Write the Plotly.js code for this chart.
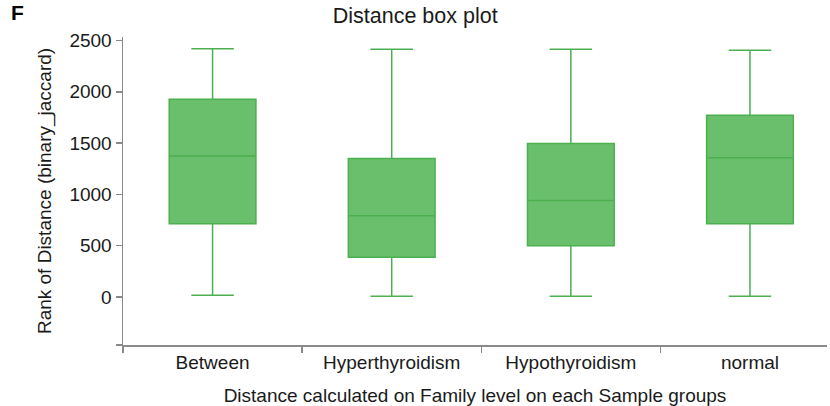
<!DOCTYPE html>
<html>
<head>
<meta charset="utf-8">
<script src="https://cdn.plot.ly/plotly-3.0.1.min.js"></script>
<style>
  html, body { margin: 0; padding: 0; background: #fff; }
  #chart { width: 830px; height: 406px; }
</style>
</head>
<body>
<div id="chart"></div>
<script>
// Sample groups and their rank-of-distance summaries
const groups = ["Between", "Hyperthyroidism", "Hypothyroidism", "normal"];
const lowerWhisker = [16, 6, 6, 6];
const q1Values = [713, 388, 500, 713];
const medianValues = [1374, 791, 940, 1357];
const q3Values = [1928, 1350, 1496, 1772];
const upperWhisker = [2420, 2414, 2414, 2405];

const yTickVals = [-468, 0, 500, 1000, 1500, 2000, 2500];
const yTickText = ["", "0", "500", "1000", "1500", "2000", "2500"];

const fontFamily = "Arial, 'Liberation Sans', Helvetica, sans-serif";
const textColor = "#1a1a1a";

const trace = {
  type: "box",
  x: groups,
  q1: q1Values,
  median: medianValues,
  q3: q3Values,
  lowerfence: lowerWhisker,
  upperfence: upperWhisker,
  boxpoints: false,
  width: 0.484,
  whiskerwidth: 0.49,
  fillcolor: "#6abf6d",
  line: { color: "#4caf50", width: 1.5 },
  hoverinfo: "skip",
  showlegend: false
};

const axisColor = "#8a8a8a";

const layout = {
  width: 830,
  height: 406,
  margin: { l: 123, r: 3, t: 37, b: 61 },
  paper_bgcolor: "#ffffff",
  plot_bgcolor: "#ffffff",
  font: { family: fontFamily, size: 19, color: textColor },
  title: {
    text: "Distance box plot",
    font: { family: fontFamily, size: 21.5, color: textColor },
    x: 0.415, xref: "paper", xanchor: "center",
    y: 0.962, yref: "container", yanchor: "middle"
  },
  xaxis: {
    type: "category",
    range: [-0.5, 3.43],
    showgrid: false,
    zeroline: false,
    showline: true,
    linecolor: axisColor,
    linewidth: 1.5,
    ticks: "outside",
    tickson: "boundaries",
    ticklen: 6,
    tickcolor: axisColor,
    tickwidth: 1.5,
    tickfont: { family: fontFamily, size: 19, color: textColor },
    title: {
      text: "Distance calculated on Family level on each Sample groups",
      font: { family: fontFamily, size: 19, color: textColor },
      standoff: 16
    }
  },
  yaxis: {
    range: [-468, 2534],
    showgrid: false,
    zeroline: false,
    showline: true,
    linecolor: axisColor,
    linewidth: 1.5,
    ticks: "outside",
    ticklen: 6,
    tickcolor: axisColor,
    tickwidth: 1.5,
    tickmode: "array",
    tickvals: yTickVals,
    ticktext: yTickText,
    tickfont: { family: fontFamily, size: 19, color: textColor },
    title: {
      text: "Rank of Distance (binary_jaccard)",
      font: { family: fontFamily, size: 19, color: textColor },
      standoff: 13
    }
  },
  annotations: [{
    text: "<b>F</b>",
    xref: "paper", yref: "paper",
    x: -0.162, y: 1.078,
    xanchor: "left", yanchor: "middle",
    showarrow: false,
    font: { family: fontFamily, size: 21, color: "#000000" }
  }]
};

Plotly.newPlot("chart", [trace], layout, { displayModeBar: false, staticPlot: true });
</script>
</body>
</html>
